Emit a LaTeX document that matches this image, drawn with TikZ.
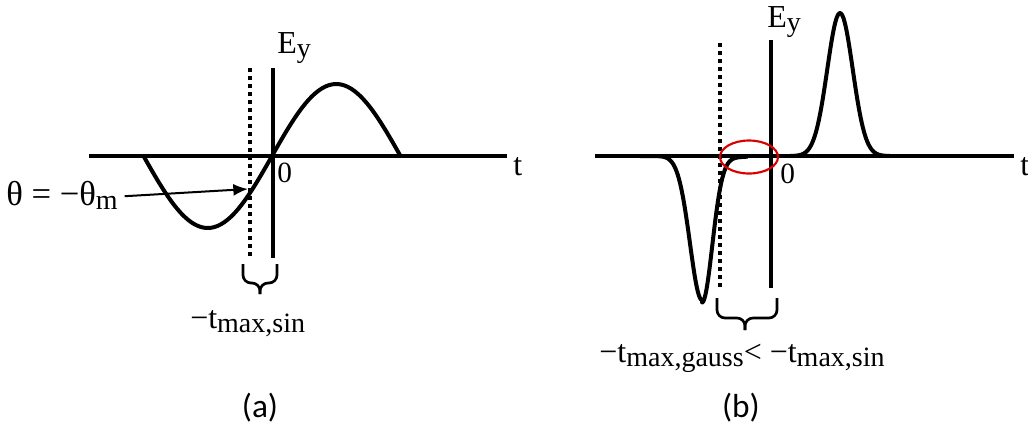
\documentclass[tikz,border=0pt]{standalone}
\usepackage{fontspec}
\setmainfont{Liberation Serif}
\newfontfamily\capfont{Carlito}
\usetikzlibrary{arrows.meta,shapes.geometric}
\newcommand{\lsub}[1]{\raisebox{-3pt}{\fontsize{21}{24}\selectfont #1}}

\begin{document}
\begin{tikzpicture}[x=0.75pt,y=-0.75pt,
  axis/.style={line width=3pt},
  wave/.style={line width=3pt,line join=round,smooth},
  dotline/.style={line width=3pt,dash pattern=on 3pt off 3pt},
  lbl/.style={font=\fontsize{24}{28}\selectfont,inner sep=0pt,anchor=base west},
  zero/.style={font=\fontsize{22}{26}\selectfont,inner sep=0pt,anchor=base west},
  caption/.style={font=\capfont\fontsize{25}{30}\selectfont,inner sep=0pt},
  bracket/.style={line width=2pt,rounded corners=6pt}]
  \useasboundingbox (0,0) rectangle (1028,444);
  % (a) sine pulse
  \coordinate (ta0) at (89,156);
  \coordinate (ta1) at (507,156);
  \coordinate (ea0) at (273,68);
  \coordinate (ea1) at (273,258);
  \coordinate (da0) at (250,68);
  \coordinate (da1) at (250,257);
  \draw[axis] (ta0) -- (ta1);
  \draw[axis] (ea0) -- (ea1);
  \draw[dotline] (da0) -- (da1);
  \draw[wave] plot[domain=143:400,samples=80] (\x,{156-72*sin((\x-272)/128.5*180)});
  \node[lbl] (eya) at (277,53) {E\lsub{y}};
  \node[zero] (zeroa) at (277,182) {0};
  \node[lbl] (ta) at (513,175) {t};
  \node[lbl,font=\fontsize{26}{30}\selectfont] (theta) at (6,205) {θ = −θ\lsub{m}};
  \coordinate (thm) at (248,189);
  \draw[line width=1.5pt,-{Latex[length=11pt,width=9pt]}] ([xshift=5pt,yshift=-1pt]theta.east) -- (thm);
  \coordinate (bla) at (243,264);
  \coordinate (bra) at (277,264);
  \coordinate (bma) at (260,283);
  \coordinate (bta) at (260,294);
  \draw[bracket] (bla) -- (bla |- bma) -- (bma) -- (bta);
  \draw[bracket] (bra) -- (bra |- bma) -- (bma) -- (bta);
  \node[lbl] (tmaxa) at (190,328) {−t\lsub{max,sin}};
  \node[caption] (capa) at (260,408) {(a)};
  % (b) gaussian pulses
  \coordinate (tb0) at (595,156);
  \coordinate (tb1) at (1014,156);
  \coordinate (eb0) at (771,40);
  \coordinate (eb1) at (771,288);
  \coordinate (db0) at (720,43);
  \coordinate (db1) at (720,288);
  \draw[axis] (tb0) -- (tb1);
  \draw[axis] (eb0) -- (eb1);
  \draw[dotline] (db0) -- (db1);
  \draw[wave] plot[domain=640:702,samples=60] (\x,{156+144*exp(-((\x-702)/17)^2)})
    -- plot[domain=702:748,samples=60] (\x,{156+144*exp(-((\x-702)/14.5)^2)+2.5*exp(-((\x-702)/40)^2)});
  \draw[wave] plot[domain=790:890,samples=80] (\x,{156-143*exp(-((\x-840)/18)^2)});
  \node[draw=red!85!black,line width=1.6pt,ellipse,minimum width=43.5pt,minimum height=24.75pt,inner sep=0pt] (gap) at (749,157) {};
  \node[lbl] (eyb) at (767,27) {E\lsub{y}};
  \node[zero] (zerob) at (780,183) {0};
  \node[lbl] (tb) at (1020,175) {t};
  \coordinate (blb) at (717,298);
  \coordinate (brb) at (777,298);
  \coordinate (bmb) at (745,318);
  \coordinate (btb) at (745,330);
  \draw[bracket] (blb) -- (blb |- bmb) -- (bmb) -- (btb);
  \draw[bracket] (brb) -- (brb |- bmb) -- (bmb) -- (btb);
  \node[lbl,anchor=base] (tmaxb) at (742,362) {−t\lsub{max,gauss}< −t\lsub{max,sin}};
  \node[caption] (capb) at (741,408) {(b)};
\end{tikzpicture}
\end{document}
